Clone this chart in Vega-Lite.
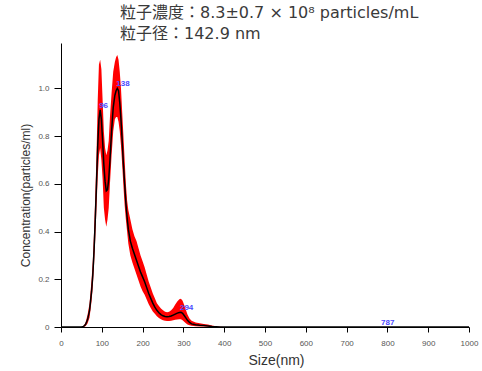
{
  "$schema": "https://vega.github.io/schema/vega-lite/v6.json",
  "width": 408,
  "height": 284,
  "autosize": {"type": "none"},
  "padding": {"left": 61, "top": 43, "right": 13, "bottom": 44},
  "background": "white",
  "title": {
    "text": ["粒子濃度：8.3±0.7 × 10⁸ particles/mL", "粒子径：142.9 nm"],
    "anchor": "start",
    "frame": "group",
    "dx": 59,
    "offset": 1,
    "font": "DejaVu Sans, Noto Sans CJK JP",
    "fontSize": 16,
    "fontWeight": "normal",
    "color": "#3a3a3a",
    "lineHeight": 21
  },
  "config": {
    "view": {"stroke": null},
    "font": "Liberation Sans"
  },
  "datasets": {
    "nta": [
      {"size": 0, "mean": 0, "lo": 0, "hi": 0},
      {"size": 50, "mean": 0, "lo": 0, "hi": 0},
      {"size": 55, "mean": 0.002, "lo": 0, "hi": 0.004},
      {"size": 60, "mean": 0.01, "lo": 0.003, "hi": 0.018},
      {"size": 65, "mean": 0.03, "lo": 0.015, "hi": 0.05},
      {"size": 70, "mean": 0.07, "lo": 0.04, "hi": 0.1},
      {"size": 75, "mean": 0.15, "lo": 0.11, "hi": 0.2},
      {"size": 78, "mean": 0.22, "lo": 0.17, "hi": 0.28},
      {"size": 81, "mean": 0.32, "lo": 0.26, "hi": 0.4},
      {"size": 84, "mean": 0.45, "lo": 0.37, "hi": 0.55},
      {"size": 87, "mean": 0.6, "lo": 0.5, "hi": 0.72},
      {"size": 90, "mean": 0.76, "lo": 0.63, "hi": 0.95},
      {"size": 93, "mean": 0.87, "lo": 0.72, "hi": 1.1},
      {"size": 96, "mean": 0.91, "lo": 0.75, "hi": 1.12},
      {"size": 99, "mean": 0.87, "lo": 0.7, "hi": 1.08},
      {"size": 102, "mean": 0.78, "lo": 0.62, "hi": 0.95},
      {"size": 105, "mean": 0.68, "lo": 0.5, "hi": 0.82},
      {"size": 108, "mean": 0.61, "lo": 0.45, "hi": 0.75},
      {"size": 111, "mean": 0.57, "lo": 0.42, "hi": 0.72},
      {"size": 114, "mean": 0.575, "lo": 0.45, "hi": 0.74},
      {"size": 117, "mean": 0.62, "lo": 0.5, "hi": 0.78},
      {"size": 120, "mean": 0.7, "lo": 0.6, "hi": 0.88},
      {"size": 124, "mean": 0.82, "lo": 0.72, "hi": 0.98},
      {"size": 128, "mean": 0.92, "lo": 0.82, "hi": 1.07},
      {"size": 132, "mean": 0.97, "lo": 0.87, "hi": 1.11},
      {"size": 135, "mean": 0.99, "lo": 0.88, "hi": 1.13},
      {"size": 138, "mean": 1.0, "lo": 0.88, "hi": 1.14},
      {"size": 141, "mean": 0.99, "lo": 0.86, "hi": 1.12},
      {"size": 144, "mean": 0.94, "lo": 0.82, "hi": 1.07},
      {"size": 147, "mean": 0.87, "lo": 0.76, "hi": 1.0},
      {"size": 150, "mean": 0.78, "lo": 0.68, "hi": 0.9},
      {"size": 153, "mean": 0.68, "lo": 0.59, "hi": 0.8},
      {"size": 156, "mean": 0.6, "lo": 0.51, "hi": 0.7},
      {"size": 159, "mean": 0.52, "lo": 0.45, "hi": 0.6},
      {"size": 162, "mean": 0.46, "lo": 0.4, "hi": 0.53},
      {"size": 165, "mean": 0.41, "lo": 0.35, "hi": 0.49},
      {"size": 170, "mean": 0.36, "lo": 0.3, "hi": 0.45},
      {"size": 175, "mean": 0.33, "lo": 0.27, "hi": 0.41},
      {"size": 180, "mean": 0.305, "lo": 0.245, "hi": 0.38},
      {"size": 185, "mean": 0.28, "lo": 0.22, "hi": 0.36},
      {"size": 190, "mean": 0.255, "lo": 0.195, "hi": 0.33},
      {"size": 195, "mean": 0.23, "lo": 0.17, "hi": 0.3},
      {"size": 200, "mean": 0.21, "lo": 0.15, "hi": 0.275},
      {"size": 205, "mean": 0.19, "lo": 0.135, "hi": 0.25},
      {"size": 210, "mean": 0.165, "lo": 0.115, "hi": 0.22},
      {"size": 215, "mean": 0.14, "lo": 0.095, "hi": 0.19},
      {"size": 220, "mean": 0.12, "lo": 0.08, "hi": 0.165},
      {"size": 225, "mean": 0.1, "lo": 0.065, "hi": 0.14},
      {"size": 230, "mean": 0.083, "lo": 0.055, "hi": 0.12},
      {"size": 235, "mean": 0.07, "lo": 0.045, "hi": 0.1},
      {"size": 240, "mean": 0.06, "lo": 0.038, "hi": 0.088},
      {"size": 245, "mean": 0.052, "lo": 0.032, "hi": 0.078},
      {"size": 250, "mean": 0.047, "lo": 0.028, "hi": 0.07},
      {"size": 255, "mean": 0.044, "lo": 0.026, "hi": 0.064},
      {"size": 260, "mean": 0.043, "lo": 0.025, "hi": 0.062},
      {"size": 265, "mean": 0.044, "lo": 0.025, "hi": 0.064},
      {"size": 270, "mean": 0.046, "lo": 0.026, "hi": 0.07},
      {"size": 275, "mean": 0.05, "lo": 0.028, "hi": 0.08},
      {"size": 280, "mean": 0.054, "lo": 0.03, "hi": 0.094},
      {"size": 285, "mean": 0.058, "lo": 0.031, "hi": 0.107},
      {"size": 290, "mean": 0.061, "lo": 0.032, "hi": 0.116},
      {"size": 294, "mean": 0.062, "lo": 0.032, "hi": 0.118},
      {"size": 298, "mean": 0.057, "lo": 0.028, "hi": 0.11},
      {"size": 302, "mean": 0.048, "lo": 0.022, "hi": 0.092},
      {"size": 306, "mean": 0.038, "lo": 0.016, "hi": 0.072},
      {"size": 310, "mean": 0.028, "lo": 0.011, "hi": 0.052},
      {"size": 315, "mean": 0.019, "lo": 0.007, "hi": 0.036},
      {"size": 320, "mean": 0.013, "lo": 0.005, "hi": 0.026},
      {"size": 330, "mean": 0.009, "lo": 0.003, "hi": 0.019},
      {"size": 340, "mean": 0.007, "lo": 0.002, "hi": 0.016},
      {"size": 350, "mean": 0.006, "lo": 0.002, "hi": 0.013},
      {"size": 360, "mean": 0.004, "lo": 0.001, "hi": 0.01},
      {"size": 370, "mean": 0.002, "lo": 0, "hi": 0.006},
      {"size": 380, "mean": 0.001, "lo": 0, "hi": 0.003},
      {"size": 390, "mean": 0, "lo": 0, "hi": 0.001},
      {"size": 400, "mean": 0, "lo": 0, "hi": 0},
      {"size": 1000, "mean": 0, "lo": 0, "hi": 0}
    ],
    "peaks": [
      {"size": 96, "conc": 0.91, "label": "96"},
      {"size": 138, "conc": 1.0, "label": "138"},
      {"size": 294, "conc": 0.062, "label": "294"},
      {"size": 787, "conc": 0, "label": "787"}
    ]
  },
  "encoding": {
    "x": {
      "field": "size",
      "type": "quantitative",
      "scale": {"domain": [0, 1000], "nice": false},
      "axis": {
        "title": "Size(nm)",
        "values": [0, 100, 200, 300, 400, 500, 600, 700, 800, 900, 1000],
        "format": "d",
        "grid": false,
        "tickSize": 5,
        "tickColor": "#000000",
        "domainColor": "#000000",
        "labelFontSize": 8,
        "labelColor": "#555555",
        "labelPadding": 7,
        "labelFlush": false,
        "labelOverlap": false,
        "titleFontSize": 14,
        "titleFontWeight": "normal",
        "titleColor": "#333333",
        "titleX": 215,
        "titleY": 33,
        "titleAlign": "center",
        "titleBaseline": "middle"
      }
    }
  },
  "layer": [
    {
      "data": {"name": "nta"},
      "mark": {"type": "area", "color": "#ff0000", "opacity": 1, "clip": true},
      "encoding": {
        "y": {
          "field": "lo",
          "type": "quantitative",
          "scale": {"domain": [0, 1.19], "nice": false},
          "axis": {
            "title": "Concentration(particles/ml)",
            "values": [0, 0.2, 0.4, 0.6, 0.8, 1.0],
            "labelExpr": "datum.value == 0 ? '0' : format(datum.value, '.1f')",
            "grid": false,
            "tickSize": 7,
            "tickColor": "#000000",
            "domainColor": "#000000",
            "labelFontSize": 8,
            "labelColor": "#555555",
            "labelPadding": 5,
            "titleFontSize": 12,
            "titleFontWeight": "normal",
            "titleColor": "#333333",
            "titleX": -36,
            "titleY": 152,
            "titleAngle": -90,
            "titleAlign": "center",
            "titleBaseline": "middle"
          }
        },
        "y2": {"field": "hi"}
      }
    },
    {
      "data": {"name": "nta"},
      "mark": {"type": "line", "color": "#000000", "strokeWidth": 1.5, "clip": true},
      "encoding": {
        "y": {"field": "mean", "type": "quantitative"}
      }
    },
    {
      "data": {"name": "peaks"},
      "mark": {"type": "text", "color": "#4a4aff", "fontSize": 8, "fontWeight": "bold", "align": "left", "baseline": "middle", "dx": -1, "dy": -4},
      "encoding": {
        "y": {"field": "conc", "type": "quantitative"},
        "text": {"field": "label"}
      }
    }
  ]
}
